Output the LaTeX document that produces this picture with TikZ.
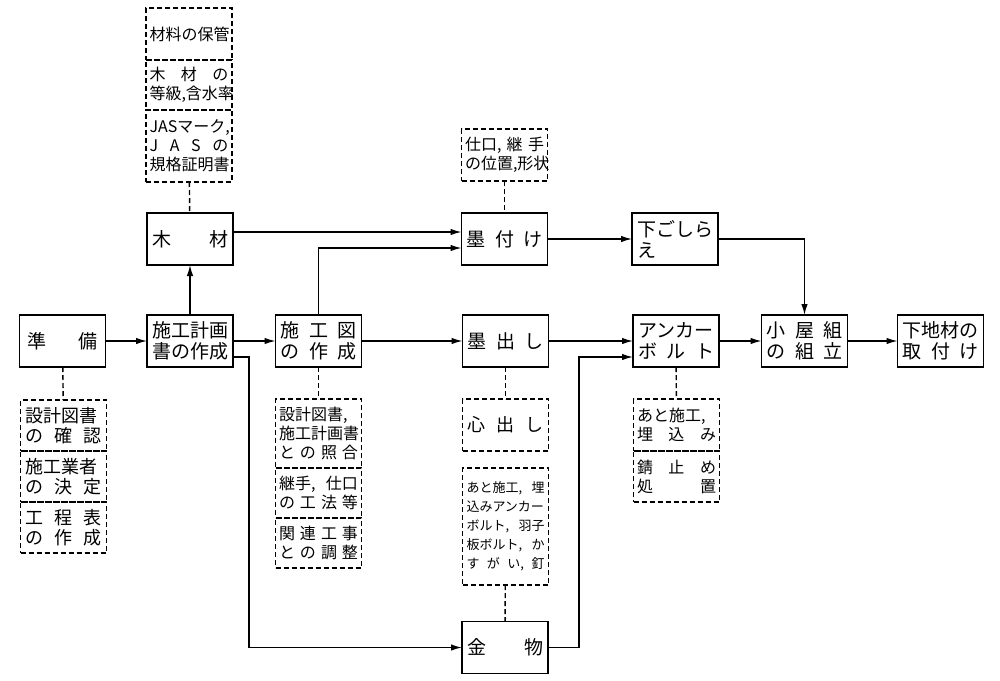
\documentclass[tikz,border=0pt]{standalone}
\usepackage{fontspec}
\setmainfont{Noto Sans CJK JP}
\usepackage{tikz}
\usetikzlibrary{positioning, arrows.meta}

\newcommand{\spr}[2][76pt]{\hbox to #1{#2}}

\begin{document}
\begin{tikzpicture}[x=1pt, y=-1pt,
    box/.style={draw, line width=1.6pt, minimum width=86pt, minimum height=52pt, inner sep=0pt, outer sep=0pt, align=center, font=\fontsize{19}{21}\selectfont},
    memo/.style={draw, line width=1.4pt, dash pattern=on 5pt off 3pt, minimum width=86pt, inner sep=0pt, outer sep=0pt, align=center, font=\fontsize{16}{19}\selectfont},
    flow/.style={line width=1.4pt, -{Latex[length=11pt, width=6.5pt]}},
    link/.style={line width=1.4pt, dash pattern=on 5pt off 3pt}]

    \useasboundingbox (0,0) rectangle (1000,680);

    % main row
    \node[box] (junbi) at (62.5,341) {\spr[70pt]{準\hfil 備}};
    \node[box] (keikaku) at (190,341) {\spr{施工計画}\\\spr{書の作成}};
    \node[box] (sekouzu) at (318.5,341) {\spr{施\hfil 工\hfil 図}\\\spr{の\hfil 作\hfil 成}};
    \node[box] (sumidashi) at (505.5,341) {\spr{墨\hfil 出\hfil し}};
    \node[box] (anchor) at (676,341) {\spr{アンカー}\\\spr{ボ\hfil ル\hfil ト}};
    \node[box] (koya) at (804.5,341) {\spr{小\hfil 屋\hfil 組}\\\spr{の\hfil 組\hfil 立}};
    \node[box] (shitaji) at (940.5,341) {\spr{下地材の}\\\spr{取\hfil 付\hfil け}};

    % upper row
    \node[box] (mokuzai) at (190,239) {\spr{木\hfil 材}};
    \node[box] (sumitsuke) at (504.5,239) {\spr{墨\hfil 付\hfil け}};
    \node[box] (shitagoshirae) at (675,239) {\spr{下ごしら}\\\spr{え\hfil}};

    % lower row
    \node[box] (kanamono) at (505,647.5) {\spr{金\hfil 物}};

    % notes
    \node[memo, minimum height=72pt] (jas) at (189,146) {\spr[79pt]{JASマーク,\hfil}\\\spr[79pt]{J\hfil A\hfil S\hfil の}\\\spr[79pt]{規格証明書}};
    \node[memo, minimum height=50pt, above=0pt of jas] (tokyu) {\spr[79pt]{木\hfil 材\hfil の}\\\spr[79pt]{等級,\hfil 含水率}};
    \node[memo, minimum height=52pt, above=0pt of tokyu] (hokan) {\spr[79pt]{材料の保管}};

    \node[memo, minimum height=52pt] (shiguchi) at (504.5,155) {\spr[79pt]{仕口,\hfil 継\hfil 手}\\\spr[79pt]{の位置,\hfil 形状}};

    \node[memo, minimum height=51pt, font=\fontsize{18}{20}\selectfont] (kakunin) at (63.5,425.5) {\spr{設計図書}\\\spr{の\hfil 確\hfil 認}};
    \node[memo, minimum height=51pt, font=\fontsize{18}{20}\selectfont, below=0pt of kakunin] (gyosha) {\spr{施工業者}\\\spr{の\hfil 決\hfil 定}};
    \node[memo, minimum height=51pt, font=\fontsize{18}{20}\selectfont, below=0pt of gyosha] (kotei) {\spr{工\hfil 程\hfil 表}\\\spr{の\hfil 作\hfil 成}};

    \node[memo, minimum height=69pt] (shogo) at (318.5,433.5) {\spr[79pt]{設計図書,\hfil}\\\spr[79pt]{施工計画書}\\\spr[79pt]{と\hfil の\hfil 照\hfil 合}};
    \node[memo, minimum height=50pt, below=0pt of shogo] (koho) {\spr[79pt]{継手,\hfil 仕口}\\\spr[79pt]{の\hfil 工\hfil 法\hfil 等}};
    \node[memo, minimum height=50pt, below=0pt of koho] (chosei) {\spr[79pt]{関\hfil 連\hfil 工\hfil 事}\\\spr[79pt]{と\hfil の\hfil 調\hfil 整}};

    \node[memo, minimum height=52pt, font=\fontsize{18}{20}\selectfont] (shindashi) at (505.5,425) {\spr{心\hfil 出\hfil し}};
    \node[memo, minimum height=117pt, font=\fontsize{13}{19}\selectfont] (kanagu) at (505.5,526.5) {\spr[78pt]{あと施工,\hfil 埋}\\\spr[78pt]{込みアンカー}\\\spr[78pt]{ボルト,\hfil 羽子}\\\spr[78pt]{板ボルト,\hfil か}\\\spr[78pt]{す\hfil が\hfil い,\hfil 釘}};

    \node[memo, minimum height=52pt] (atosekou) at (676.5,425) {\spr[79pt]{あと施工,\hfil}\\\spr[79pt]{埋\hfil 込\hfil み}};
    \node[memo, minimum height=51pt, below=0pt of atosekou] (sabidome) {\spr[79pt]{錆\hfil 止\hfil め}\\\spr[79pt]{処\hfil 置}};

    % flow
    \draw[flow] (junbi) -- (keikaku);
    \draw[flow] (keikaku) -- (sekouzu);
    \draw[flow] (keikaku) -- (mokuzai);
    \draw[flow] (sekouzu) -- (sumidashi);
    \draw[flow] (sumidashi) -- (anchor);
    \draw[flow] (anchor) -- (koya);
    \draw[flow] (koya) -- (shitaji);
    \draw[flow] ([yshift=7pt]mokuzai.east) -- ([yshift=7pt]sumitsuke.west);
    \draw[flow] (sekouzu.north) |- ([yshift=-9pt]sumitsuke.west);
    \draw[flow] (sumitsuke) -- (shitagoshirae);
    \draw[flow] (shitagoshirae.east) -| (koya.north);
    \draw[flow] ([yshift=-16pt]keikaku.east) -- ++(16,0) |- (kanamono.west);
    \draw[flow] (kanamono.east) -- ++(31,0) |- ([yshift=-16pt]anchor.west);

    % dashed links
    \draw[link] (jas) -- (mokuzai);
    \draw[link] (shiguchi) -- (sumitsuke);
    \draw[link] (junbi) -- (kakunin);
    \draw[link] (sekouzu) -- (shogo);
    \draw[link] (sumidashi) -- (shindashi);
    \draw[link] (kanagu) -- (kanamono);
    \draw[link] (anchor) -- (atosekou);
\end{tikzpicture}
\end{document}
